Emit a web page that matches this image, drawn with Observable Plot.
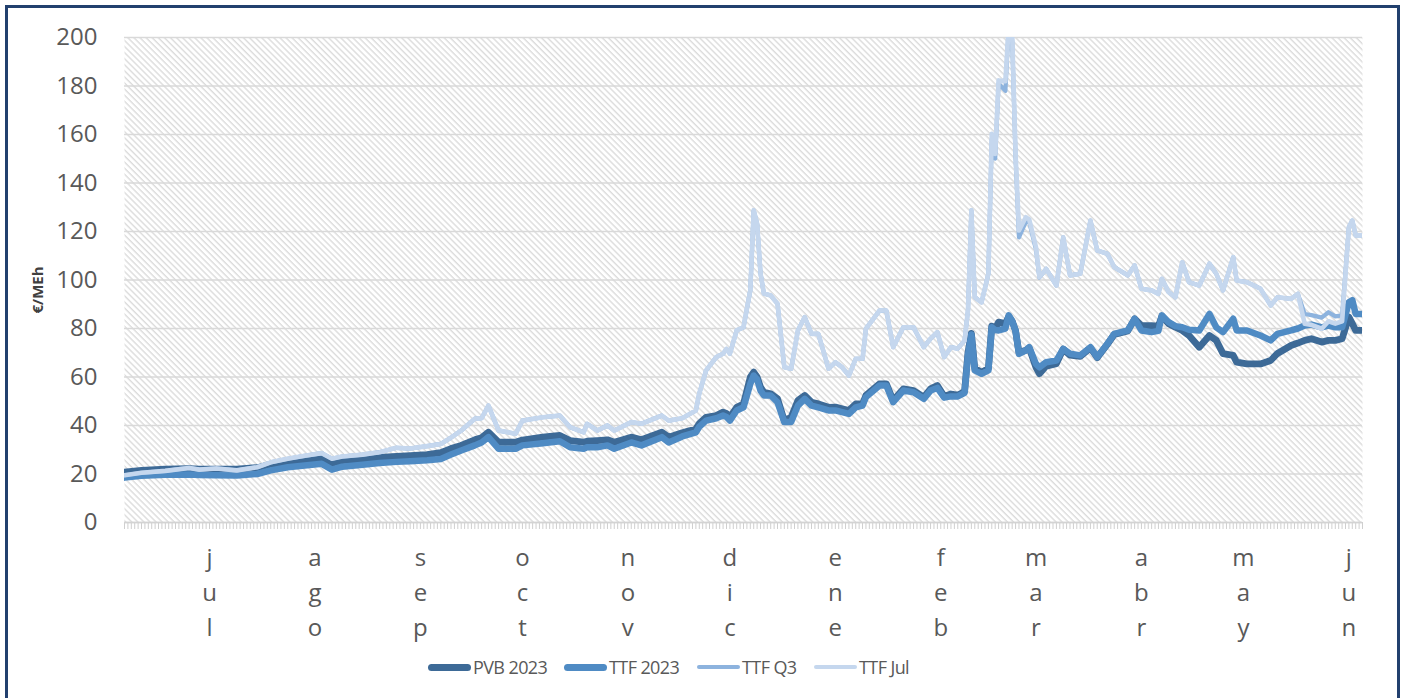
<!DOCTYPE html>
<html>
<head>
<meta charset="utf-8">
<script src="https://cdn.jsdelivr.net/npm/d3@7"></script>
<script src="https://cdn.jsdelivr.net/npm/@observablehq/plot@0.6"></script>
<style>
  html, body { margin: 0; padding: 0; background: #fff; }
  body { width: 1410px; height: 698px; position: relative; overflow: hidden; font-family: "Open Sans", sans-serif; }
  #border { position: absolute; left: 5px; top: 5px; width: 1395px; height: 700px; border: 3px solid #22406e; box-sizing: border-box; }
  #chart { position: absolute; left: 0; top: 0; }
  #ylabel { position: absolute; left: 37px; top: 290px; transform: translate(-50%, -50%) rotate(-90deg); font-weight: bold; font-size: 15px; color: #404040; white-space: nowrap; }
  .leg { position: absolute; top: 655px; height: 24px; display: flex; align-items: center; font-size: 18px; color: #595959; letter-spacing: -0.6px; white-space: nowrap; }
  .sw { width: 43px; border-radius: 4px; margin-right: 2px; }
</style>
</head>
<body>
<div id="border"></div>
<div id="chart"></div>
<div id="ylabel">€/MEh</div>
<div id="legend"></div>
<script>
// ---- data ----
const dates = [
  "2022-06-20","2022-06-25","2022-07-02","2022-07-09","2022-07-12","2022-07-17","2022-07-23","2022-07-29",
  "2022-08-02","2022-08-07","2022-08-12","2022-08-17","2022-08-20","2022-08-23","2022-08-29",
  "2022-09-03","2022-09-08","2022-09-12","2022-09-17","2022-09-21","2022-09-24","2022-09-27",
  "2022-10-01","2022-10-03","2022-10-05","2022-10-08","2022-10-13","2022-10-15","2022-10-21","2022-10-26","2022-10-29",
  "2022-11-02","2022-11-03","2022-11-06","2022-11-09","2022-11-11","2022-11-16","2022-11-19","2022-11-25","2022-11-27",
  "2022-12-01","2022-12-05","2022-12-06","2022-12-08","2022-12-11","2022-12-13","2022-12-14","2022-12-15","2022-12-17","2022-12-19",
  "2022-12-21","2022-12-22","2022-12-23","2022-12-24","2022-12-25","2022-12-27","2022-12-29","2022-12-31",
  "2023-01-02","2023-01-04","2023-01-06","2023-01-08","2023-01-10","2023-01-13","2023-01-15","2023-01-17","2023-01-19",
  "2023-01-21","2023-01-23","2023-01-24","2023-01-28","2023-01-30",
  "2023-02-01","2023-02-04","2023-02-07","2023-02-10","2023-02-12","2023-02-14","2023-02-16","2023-02-18","2023-02-20",
  "2023-02-22","2023-02-23","2023-02-24","2023-02-25","2023-02-27",
  "2023-03-01","2023-03-02","2023-03-03","2023-03-04","2023-03-06","2023-03-07","2023-03-08","2023-03-09","2023-03-10",
  "2023-03-12","2023-03-13","2023-03-15","2023-03-16","2023-03-18","2023-03-21","2023-03-23","2023-03-25","2023-03-28","2023-03-31",
  "2023-04-02","2023-04-05","2023-04-07","2023-04-11","2023-04-13","2023-04-15","2023-04-18","2023-04-20","2023-04-21",
  "2023-04-23","2023-04-25","2023-04-27","2023-04-29",
  "2023-05-02","2023-05-05","2023-05-07","2023-05-09","2023-05-12","2023-05-13","2023-05-16","2023-05-20","2023-05-23",
  "2023-05-25","2023-05-29","2023-05-31",
  "2023-06-02","2023-06-04","2023-06-07","2023-06-09","2023-06-11","2023-06-13","2023-06-15","2023-06-16","2023-06-17","2023-06-19"
];
const pvb2023 = [
  20.8,21.5,22.0,22.2,22.0,22.0,22.0,22.6,
  24.0,24.9,25.6,26.3,24.5,25.5,26.0,
  26.8,27.3,27.6,28.0,28.8,30.5,31.8,
  34.1,35.0,37.2,33.1,33.1,34.0,35.2,35.9,33.8,
  33.1,33.5,33.8,34.1,33.1,35.2,34.1,37.2,35.2,
  37.0,38.6,40.8,43.4,44.1,45.5,45.0,43.4,47.5,48.9,
  59.9,62.0,60.0,55.8,53.7,53.1,51.0,42.0,
  43.4,50.3,52.4,49.6,48.9,47.5,47.6,46.9,46.2,
  48.9,48.9,52.4,57.2,57.2,
  50.3,55.1,54.4,51.7,55.1,56.5,52.0,53.0,52.5,
  54.0,70.0,78.0,63.5,62.0,
  63.5,81.0,80.0,82.6,82.0,85.0,83.0,79.0,70.0,
  71.0,72.0,64.0,61.4,64.5,65.5,71.5,69.0,68.5,72.0,
  68.0,73.5,77.5,79.0,84.0,81.2,81.2,81.0,85.0,
  82.0,80.5,79.2,77.1,
  72.3,77.1,75.1,69.6,68.9,66.1,65.4,65.4,66.8,
  69.7,73.0,74.0,
  75.1,75.8,74.4,75.1,75.1,75.8,84.7,82.0,79.2,79.2
];
const ttf2023 = [
  18.5,19.3,19.7,19.8,19.6,19.5,19.4,20.0,
  21.5,22.8,23.5,24.2,21.8,23.0,23.8,
  24.5,25.0,25.3,25.7,26.2,28.0,29.7,
  31.8,33.0,35.2,30.4,30.4,31.8,32.7,33.5,31.0,
  30.4,31.0,31.0,31.8,30.4,33.0,31.8,35.2,33.0,
  35.5,37.2,39.5,42.0,43.0,44.1,43.5,42.0,46.2,47.5,
  57.2,60.6,59.0,54.4,52.4,52.4,49.6,41.4,
  41.4,48.2,51.0,48.2,47.5,46.2,46.2,45.5,44.8,
  47.5,48.2,51.7,56.5,56.5,
  49.6,54.4,53.7,51.0,54.4,55.5,51.5,52.0,52.0,
  53.5,69.0,77.5,62.7,61.3,
  62.7,80.5,79.4,79.2,80.0,85.4,83.0,79.0,69.6,
  71.0,72.3,65.4,64.0,66.1,66.8,71.6,69.6,68.9,72.3,
  68.2,73.7,77.8,79.2,84.0,79.2,78.5,79.0,85.4,
  82.6,81.0,80.5,79.5,
  79.2,86.0,80.5,78.5,84.0,79.2,79.2,77.1,75.1,
  77.8,79.2,80.0,
  81.2,81.6,80.5,81.2,80.5,80.5,90.8,91.7,86.0,86.0
];
const ttfQ3 = [
  19.5,20.5,21.3,22.5,21.8,22.3,21.5,22.8,
  24.8,26.3,27.5,28.6,26.3,27.2,28.0,
  29.0,30.8,30.5,31.5,32.4,35.0,37.9,
  42.8,43.0,48.2,37.9,36.6,42.0,43.4,44.1,39.3,
  37.2,40.7,37.9,40.0,37.9,41.4,40.7,44.1,42.0,
  43.0,46.2,53.2,62.7,68.2,69.6,71.6,69.6,79.2,80.5,
  95.7,128.7,123.3,102.7,94.4,93.6,90.2,64.0,
  63.4,79.2,84.7,77.8,77.8,63.4,66.1,64.0,60.6,
  67.5,67.5,79.9,87.4,87.4,
  72.3,80.5,80.5,72.3,75.8,78.5,68.2,72.3,71.7,
  75.0,87.4,128.7,92.9,90.8,
  102.6,158.0,150.0,181.0,178.0,205.0,199.0,150.0,117.6,
  124.0,124.0,112.5,101.0,104.6,97.7,117.6,101.9,102.6,124.5,
  112.2,110.8,105.3,101.9,106.0,96.4,95.7,94.3,100.5,
  95.0,92.9,107.3,99.1,
  97.7,106.7,102.6,95.7,109.4,99.8,99.1,96.4,89.5,
  92.9,92.2,94.3,
  86.0,85.5,84.5,86.7,85.0,85.4,121.8,124.5,118.4,118.4
];
const ttfJul = [
  19.5,20.5,21.3,22.5,21.8,22.3,21.5,22.8,
  24.8,26.3,27.5,28.6,26.3,27.2,28.0,
  29.0,30.8,30.5,31.5,32.4,35.0,37.9,
  42.8,43.0,48.2,37.9,36.6,42.0,43.4,44.1,39.3,
  37.2,40.7,37.9,40.0,37.9,41.4,40.7,44.1,42.0,
  43.0,46.2,53.2,62.7,68.2,69.6,71.6,69.6,79.2,80.5,
  95.7,128.7,123.3,102.7,94.4,93.6,90.2,64.0,
  63.4,79.2,84.7,77.8,77.8,63.4,66.1,64.0,60.6,
  67.5,67.5,79.9,87.4,87.4,
  72.3,80.5,80.5,72.3,75.8,78.5,68.2,72.3,71.7,
  75.0,87.4,128.7,92.9,90.8,
  102.6,160.3,152.0,182.3,182.0,205.0,201.0,152.0,120.4,
  125.9,125.0,113.5,101.2,104.6,97.7,117.6,101.9,102.6,124.5,
  112.2,110.8,105.3,101.9,106.0,96.4,95.7,94.3,100.5,
  95.0,92.9,107.3,99.1,
  97.7,106.7,102.6,95.7,109.4,99.8,99.1,96.4,89.5,
  92.9,92.2,94.3,
  82.0,81.5,79.9,83.0,82.0,83.0,121.8,124.5,118.4,118.4
];
const seriesNames = ["PVB 2023", "TTF 2023", "TTF Q3", "TTF Jul"];
const seriesValues = [pvb2023, ttf2023, ttfQ3, ttfJul];
const seriesColors = ["#3d6a97", "#4f8bc4", "#8db3de", "#c5d7ee"];
const seriesWidths = [6.8, 6.5, 4.2, 4.6];
const monthLabels = ["jul","ago","sep","oct","nov","dic","ene","feb","mar","abr","may","jun"];
const monthTickDates = ["2022-07-15","2022-08-15","2022-09-15","2022-10-15","2022-11-15","2022-12-15",
  "2023-01-15","2023-02-15","2023-03-15","2023-04-15","2023-05-15","2023-06-15"];
const yTicks = [0,20,40,60,80,100,120,140,160,180,200];

// ---- build ----
const xStart = new Date("2022-06-20"), xEnd = new Date("2023-06-19");
const seriesData = seriesValues.map((vals, s) =>
  dates.map((d, i) => ({date: new Date(d), value: vals[i], series: seriesNames[s]})));
const monthData = monthTickDates.map((d, i) => ({date: new Date(d), label: monthLabels[i].split("").join("\n")}));

const svg = Plot.plot({
  width: 1410,
  height: 640,
  marginLeft: 124,
  marginRight: 48,
  marginTop: 37,
  marginBottom: 118,
  style: {fontFamily: "'Open Sans', sans-serif", color: "#595959", background: "transparent", overflow: "visible"},
  x: {type: "utc", domain: [xStart, xEnd]},
  y: {domain: [0, 200]},
  marks: [
    Plot.frame({fill: "url(#hatch)", stroke: null}),
    Plot.gridY(yTicks, {stroke: "#d9d9d9", strokeOpacity: 1, strokeWidth: 1.5}),
    Plot.axisX({ticks: d3.utcDay.range(xStart, new Date("2023-06-20")), tickSize: 7, tickFormat: () => "", stroke: "#cfcfcf", strokeWidth: 1, strokeOpacity: 1, label: null}),
    Plot.ruleY([0], {stroke: "#d3d3d3", strokeWidth: 1.5}),
    Plot.axisY(yTicks, {tickSize: 0, tickPadding: 27, fontSize: 24, label: null, fill: "#595959"}),
    Plot.text(monthData, {x: "date", text: "label", frameAnchor: "bottom", lineAnchor: "top", dy: 19, fontSize: 24, lineHeight: 1.45, fill: "#595959"}),
    ...seriesData.map((data, s) => Plot.line(data, {
      x: "date", y: "value", stroke: seriesColors[s], strokeWidth: seriesWidths[s],
      strokeLinejoin: "round", strokeLinecap: "round", clip: true
    }))
  ]
});

const ns = "http://www.w3.org/2000/svg";
const defs = document.createElementNS(ns, "defs");
const pattern = document.createElementNS(ns, "pattern");
pattern.setAttribute("id", "hatch");
pattern.setAttribute("patternUnits", "userSpaceOnUse");
pattern.setAttribute("width", "4.3");
pattern.setAttribute("height", "4.3");
pattern.setAttribute("patternTransform", "rotate(45)");
const bg = document.createElementNS(ns, "rect");
bg.setAttribute("width", "4.3"); bg.setAttribute("height", "4.3"); bg.setAttribute("fill", "#ffffff");
const stripe = document.createElementNS(ns, "rect");
stripe.setAttribute("width", "4.3"); stripe.setAttribute("height", "1.4"); stripe.setAttribute("fill", "#dcdcdc");
pattern.appendChild(bg); pattern.appendChild(stripe);
defs.appendChild(pattern);
svg.insertBefore(defs, svg.firstChild);
document.getElementById("chart").appendChild(svg);

// ---- legend ----
const legendLefts = [428, 564, 697, 814];
const legendHeights = [7, 7, 4, 4];
const legend = document.getElementById("legend");
seriesNames.forEach((name, s) => {
  const item = document.createElement("div");
  item.className = "leg";
  item.style.left = legendLefts[s] + "px";
  const sw = document.createElement("div");
  sw.className = "sw";
  sw.style.height = legendHeights[s] + "px";
  sw.style.background = seriesColors[s];
  const tx = document.createElement("span");
  tx.textContent = name;
  item.appendChild(sw); item.appendChild(tx);
  legend.appendChild(item);
});
</script>
</body>
</html>
